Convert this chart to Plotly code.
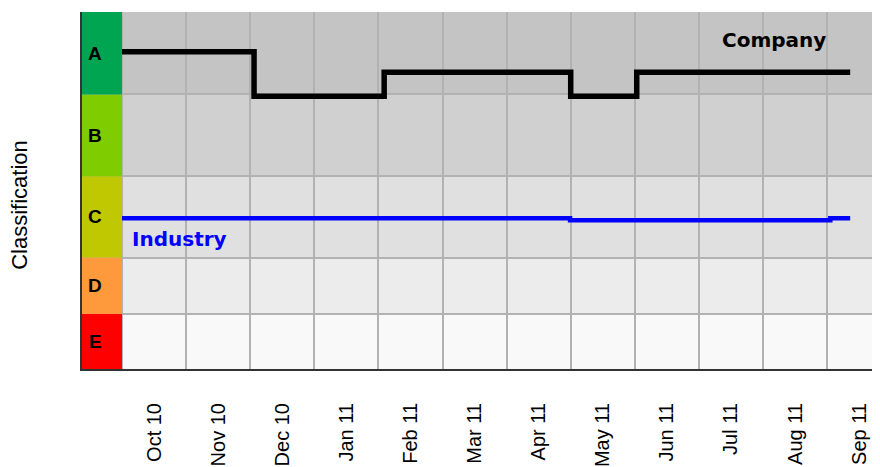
import plotly.graph_objects as go

# ---- data ----
months = ["Oct 10", "Nov 10", "Dec 10", "Jan 11", "Feb 11", "Mar 11",
          "Apr 11", "May 11", "Jun 11", "Jul 11", "Aug 11", "Sep 11"]
classes = ["E", "D", "C", "B", "A"]
class_bounds = [0, 15.4, 31.2, 54.0, 76.9, 100]
class_colors = ["#ff0000", "#ff9a3c", "#bfc800", "#7fcc00", "#00a552"]
band_shades = ["#f9f9f9", "#ececec", "#e0e0e0", "#d0d0d0", "#c4c4c4"]

# x in month units (0 = start of Oct 10)
company_x = [0, 2.06, 4.09, 7.0, 8.03, 11.36]
company_y = [88.9, 76.4, 83.1, 76.4, 83.1, 83.1]
industry_x = [0, 6.99, 11.05, 11.36]
industry_y = [42.2, 41.7, 42.2, 42.2]

x_min, x_max = -0.624, 11.825

fig = go.Figure()
fig.add_trace(go.Scatter(x=company_x, y=company_y, mode="lines", line_shape="hv",
                         line=dict(color="#000000", width=5.5), name="Company",
                         showlegend=False, hoverinfo="skip"))
fig.add_trace(go.Scatter(x=industry_x, y=industry_y, mode="lines", line_shape="hv",
                         line=dict(color="#0000ff", width=4.5), name="Industry",
                         showlegend=False, hoverinfo="skip"))

shapes = []
annotations = []
for i, c in enumerate(classes):
    y0, y1 = class_bounds[i], class_bounds[i + 1]
    shapes.append(dict(type="rect", xref="paper", yref="y", x0=0, x1=1, y0=y0, y1=y1,
                       fillcolor=band_shades[i], line=dict(width=0), layer="below"))
    shapes.append(dict(type="rect", xref="x", yref="y", x0=x_min, x1=0, y0=y0, y1=y1,
                       fillcolor=class_colors[i], line=dict(width=0), layer="above"))
    annotations.append(dict(x=-0.42, y=(y0 + y1) / 2, xref="x", yref="y", text=c,
                            showarrow=False, xanchor="center", yanchor="middle",
                            font=dict(family="Liberation Sans", size=19, color="#000",
                                      weight="bold")))

annotations.append(dict(x=10.17, y=92.2, xref="x", yref="y", text="Company", showarrow=False,
                        xanchor="center", yanchor="middle",
                        font=dict(family="DejaVu Sans", size=20, color="#000", weight="bold")))
annotations.append(dict(x=0.9, y=36.5, xref="x", yref="y", text="Industry", showarrow=False,
                        xanchor="center", yanchor="middle",
                        font=dict(family="DejaVu Sans", size=20, color="#0000ff", weight="bold")))
annotations.append(dict(x=-0.0777, y=0.46, xref="paper", yref="paper", text="Classification",
                        showarrow=False, textangle=-90, xanchor="center", yanchor="middle",
                        font=dict(family="Liberation Sans", size=22, color="#000")))

# page body has an 8px margin: the figure is sized to fill the remaining window
fig.update_layout(
    width=872, height=459,
    margin=dict(l=74, r=0, t=4, b=96),
    paper_bgcolor="white", plot_bgcolor="white",
    shapes=shapes, annotations=annotations,
    xaxis=dict(range=[x_min, x_max], tickmode="array",
               tickvals=[i + 0.5 for i in range(len(months))], ticktext=months,
               tickangle=-90, ticks="", showgrid=False, zeroline=False,
               showline=True, linecolor="#333333", linewidth=2,
               tickfont=dict(family="Liberation Sans", size=20, color="#000"),
               ticklabelstandoff=24,
               minor=dict(tickvals=list(range(len(months))), showgrid=True,
                          gridcolor="#b2b2b2", gridwidth=1.5, ticks="")),
    yaxis=dict(range=[0, 100], tickmode="array", tickvals=class_bounds[1:],
               showticklabels=False, ticks="", showgrid=True, gridcolor="#b2b2b2",
               gridwidth=1.5, zeroline=False, showline=True, linecolor="#333333",
               linewidth=2),
)

fig.write_html("out.html")
